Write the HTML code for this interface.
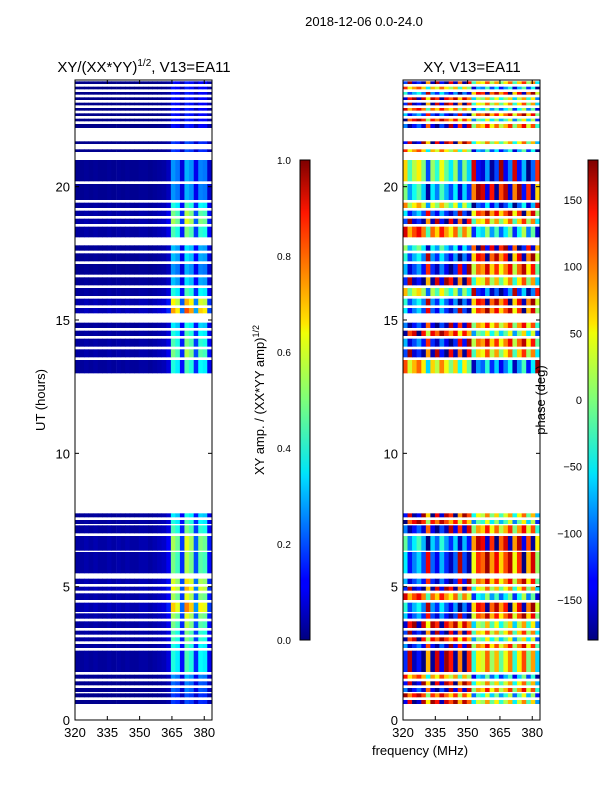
<!DOCTYPE html>
<html><head><meta charset="utf-8"><style>
body{margin:0;background:#fff;font-family:"Liberation Sans",sans-serif;}
svg text{font-family:"Liberation Sans",sans-serif;fill:#000;}
</style></head><body>
<svg id="fig" width="600" height="800" xmlns="http://www.w3.org/2000/svg">
<defs>
<linearGradient id="jet" x1="0" y1="1" x2="0" y2="0">
<stop offset="0" stop-color="#00007f"/><stop offset="0.11" stop-color="#0000ff"/><stop offset="0.125" stop-color="#0000ff"/>
<stop offset="0.34" stop-color="#00dcff"/><stop offset="0.35" stop-color="#00e5f7"/><stop offset="0.5" stop-color="#7dff7a"/>
<stop offset="0.64" stop-color="#f0ff06"/><stop offset="0.66" stop-color="#ffe500"/><stop offset="0.89" stop-color="#ff1600"/><stop offset="1" stop-color="#7f0000"/>
</linearGradient>
</defs>
<text x="364" y="26" font-size="13" text-anchor="middle">2018-12-06 0.0-24.0</text>
<text x="144" y="72" font-size="15" text-anchor="middle">XY/(XX*YY)<tspan font-size="10" dy="-6">1/2</tspan><tspan dy="6">, V13=EA11</tspan></text>
<text x="472" y="72" font-size="15" text-anchor="middle">XY, V13=EA11</text>
<g id="left"></g>
<g id="right"></g>
<g id="axes"></g>
<rect x="300" y="160" width="10" height="480" fill="url(#jet)" stroke="#000" stroke-width="1"/>
<rect x="588" y="160" width="10" height="480" fill="url(#jet)" stroke="#000" stroke-width="1"/>
<text transform="translate(264,400) rotate(-90)" font-size="13" text-anchor="middle">XY amp. / (XX*YY amp)<tspan font-size="9" dy="-5">1/2</tspan></text>
<text transform="translate(545,400) rotate(-90)" font-size="13" text-anchor="middle">phase (deg)</text>
<text transform="translate(45,400) rotate(-90)" font-size="13" text-anchor="middle">UT (hours)</text>
<text x="420" y="755" font-size="13" text-anchor="middle">frequency (MHz)</text>
</svg>
<script>
const segStart=[0.6,0.85,1.05,1.3,1.55,1.8,2.7,2.95,3.2,3.45,3.8,4.05,4.5,4.85,5.1,5.5,6.35,7.0,7.35,7.6,13.0,13.6,14.0,14.4,14.7,15.25,15.55,15.9,16.3,16.7,17.2,17.6,18.1,18.6,18.9,19.2,19.5,20.2,21.3,21.6,22.2,22.45,22.65,22.85,23.05,23.25,23.45,23.65,23.85];
const segEnd=[0.75,1.0,1.2,1.45,1.7,2.6,2.85,3.1,3.35,3.7,4.0,4.4,4.75,5.0,5.3,6.3,6.9,7.3,7.5,7.75,13.5,13.9,14.3,14.6,14.9,15.45,15.8,16.2,16.6,17.1,17.5,17.8,18.5,18.8,19.1,19.4,20.1,21.0,21.4,21.7,22.35,22.55,22.75,22.95,23.15,23.35,23.55,23.75,23.95];
const segGain=[0.4,0.4,0.5,0.5,0.6,0.9,0.9,1.0,1.0,1.1,1.2,1.5,1.2,1.4,1.3,1.1,1.2,1.0,0.9,0.8,0.9,1.1,1.0,0.9,0.8,1.6,1.4,0.9,0.7,0.6,0.7,0.7,1.0,1.2,1.1,0.9,0.6,0.6,0.4,0.4,0.3,0.3,0.3,0.3,0.3,0.3,0.3,0.3,0.3];
const segPhase=[10,-40,60,20,-80,30,70,-20,40,0,90,120,-60,30,80,100,140,60,-30,20,-100,40,80,-20,60,100,120,-140,30,80,120,160,-60,40,100,-120,150,-150,-90,20,60,-30,90,-60,30,0,120,-90,40];
const colFreq=[320,322.1,324.2,326.3,328.5,330.6,332.7,334.8,336.9,339.1,341.2,343.3,345.4,347.5,349.6,351.8,353.9,356,358.1,360.2,362.4,364.5,366.6,368.7,370.8,372.9,375.1,377.2,379.3,381.4];
const colAmp=[0.03,0.03,0.04,0.03,0.04,0.03,0.03,0.04,0.03,0.04,0.03,0.04,0.03,0.03,0.04,0.04,0.03,0.04,0.05,0.06,0.1,0.45,0.4,0.15,0.5,0.45,0.18,0.42,0.4,0.12];
const colPhase=[-150,130,170,-160,150,40,160,120,-170,140,100,160,60,150,90,-60,20,0,70,-20,40,-40,10,60,-60,20,80,-30,50,-90];
const yTicks=[0,5,10,15,20];
const xTicks=[320,335,350,365,380];
const ampTicks=[0.0,0.2,0.4,0.6,0.8,1.0];
const phaseTicks=[-150,-100,-50,0,50,100,150];
const NS="http://www.w3.org/2000/svg";
const yS=h=>720-h*(640/24);
function xS(f,x0){return x0+(f-320)*(137/63.6);}
function jet(v){v=Math.max(0,Math.min(1,v));
 const r=Math.min(1,Math.max(0,1.5-Math.abs(4*v-3))),g=Math.min(1,Math.max(0,1.5-Math.abs(4*v-2))),b=Math.min(1,Math.max(0,1.5-Math.abs(4*v-1)));
 return `rgb(${Math.round(r*255)},${Math.round(g*255)},${Math.round(b*255)})`;}
function mk(tag,a,p){const e=document.createElementNS(NS,tag);for(const k in a)e.setAttribute(k,a[k]);p.appendChild(e);return e;}
const L=document.getElementById('left'),R=document.getElementById('right'),A=document.getElementById('axes');
const cw=137/63.6*2.117+0.4;
for(let s=0;s<segStart.length;s++){
 const y1=yS(segEnd[s]),y0=yS(segStart[s]);
 for(let c=0;c<colFreq.length;c++){
  const ca=mk('rect',{x:xS(colFreq[c],75),y:y1,width:cw,height:y0-y1,fill:jet(colAmp[c]*segGain[s])},L);
  
  
  let ph=colPhase[c]+segPhase[s];ph=((ph+180)%360+360)%360-180;
  const cp=mk('rect',{x:xS(colFreq[c],403),y:y1,width:cw,height:y0-y1,fill:jet((ph+180)/360)},R);
  
  
 }
}
[75,403].forEach((x0,pi)=>{
 const fr=mk('rect',{x:x0,y:80,width:137,height:640,fill:'none',stroke:'#000','stroke-width':1},A);
 
 
 yTicks.forEach(t=>{const y=yS(t);
  mk('line',{x1:x0,y1:y,x2:x0+4,y2:y,stroke:'#000'},A);mk('line',{x1:x0+137,y1:y,x2:x0+133,y2:y,stroke:'#000'},A);
  const tx=mk('text',{x:x0-5,y:y+5,'font-size':13,'text-anchor':'end'},A);tx.textContent=t;
  
  });
 xTicks.forEach(t=>{const x=xS(t,x0);
  mk('line',{x1:x,y1:720,x2:x,y2:716,stroke:'#000'},A);mk('line',{x1:x,y1:80,x2:x,y2:84,stroke:'#000'},A);
  const tx=mk('text',{x:x,y:737,'font-size':13,'text-anchor':'middle'},A);tx.textContent=t;
  
  });
});
ampTicks.forEach(t=>{const y=640-t*480;mk('line',{x1:306,y1:y,x2:310,y2:y,stroke:'#000'},A);
 const tx=mk('text',{x:277,y:y+4,'font-size':10},A);tx.textContent=t.toFixed(1);
 
 });
phaseTicks.forEach(t=>{const y=400-t*480/360;mk('line',{x1:594,y1:y,x2:598,y2:y,stroke:'#000'},A);
 const tx=mk('text',{x:582,y:y+4,'font-size':11,'text-anchor':'end'},A);tx.textContent=t<0?'\u2212'+(-t):t;
 
 });
</script>
</body></html>
